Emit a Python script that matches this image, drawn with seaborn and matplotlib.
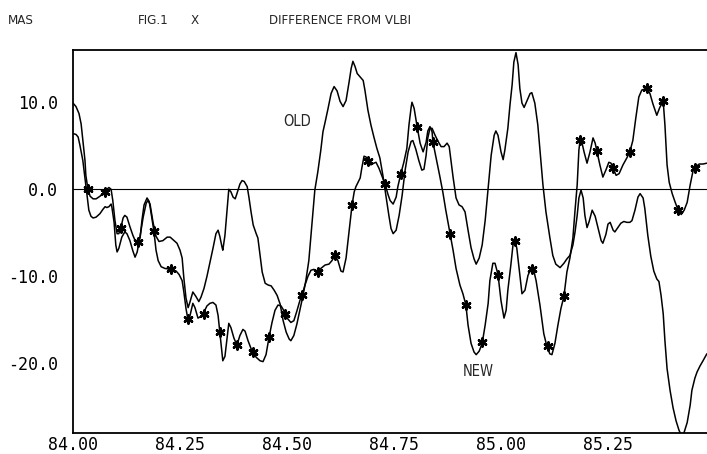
import matplotlib
matplotlib.use("Agg")
import matplotlib.pyplot as plt
import pandas as pd
import seaborn as sns

# ---- data (decimal year, milliarcseconds) ----
old_t = [84.000, 84.007, 84.012, 84.016, 84.023, 84.028, 84.033, 84.037, 84.042, 84.047,
         84.054, 84.063, 84.070, 84.075, 84.079, 84.084, 84.089, 84.091, 84.096, 84.100,
         84.103, 84.107, 84.114, 84.121, 84.126, 84.133, 84.140, 84.145, 84.150, 84.157,
         84.164, 84.171, 84.175, 84.180, 84.187, 84.194, 84.201, 84.210, 84.220, 84.227,
         84.236, 84.243, 84.250, 84.255, 84.259, 84.264, 84.269, 84.273, 84.280, 84.287,
         84.294, 84.299, 84.306, 84.313, 84.320, 84.327, 84.334, 84.339, 84.343, 84.348,
         84.350, 84.355, 84.360, 84.364, 84.369, 84.374, 84.379, 84.383, 84.390, 84.395,
         84.400, 84.407, 84.411, 84.416, 84.421, 84.428, 84.432, 84.437, 84.442, 84.449,
         84.456, 84.463, 84.470, 84.477, 84.484, 84.491, 84.498, 84.505, 84.509, 84.516,
         84.523, 84.530, 84.537, 84.544, 84.551, 84.556, 84.561, 84.565, 84.572, 84.579,
         84.584, 84.589, 84.596, 84.603, 84.610, 84.617, 84.624, 84.631, 84.638, 84.645,
         84.650, 84.654, 84.659, 84.664, 84.671, 84.678, 84.682, 84.689, 84.696, 84.703,
         84.710, 84.717, 84.724, 84.731, 84.738, 84.743, 84.748, 84.755, 84.762, 84.769,
         84.776, 84.783, 84.790, 84.794, 84.801, 84.808, 84.815, 84.820, 84.825, 84.829,
         84.834, 84.839, 84.846, 84.853, 84.860, 84.867, 84.874, 84.879, 84.883, 84.888,
         84.895, 84.902, 84.909, 84.916, 84.923, 84.930, 84.937, 84.942, 84.949, 84.956,
         84.963, 84.970, 84.977, 84.984, 84.988, 84.993, 85.000, 85.005, 85.009, 85.016,
         85.021, 85.026, 85.030, 85.035, 85.040, 85.044, 85.049, 85.054, 85.061, 85.068,
         85.072, 85.079, 85.086, 85.093, 85.098, 85.105, 85.114, 85.121, 85.128, 85.138,
         85.147, 85.154, 85.161, 85.168, 85.173, 85.178, 85.182, 85.187, 85.192, 85.196,
         85.201, 85.206, 85.213, 85.220, 85.227, 85.234, 85.238, 85.245, 85.250, 85.255,
         85.262, 85.266, 85.273, 85.280, 85.287, 85.294, 85.301, 85.306, 85.313, 85.320,
         85.325, 85.332, 85.336, 85.343, 85.350, 85.357, 85.364, 85.369, 85.374, 85.379,
         85.383, 85.388, 85.395, 85.402, 85.409, 85.416, 85.423, 85.428, 85.435, 85.442,
         85.446, 85.453, 85.458, 85.465, 85.472, 85.481]
old_v = [6.4, 6.3, 6.0, 5.1, 3.3, 1.3, -0.7, -2.4, -3.1, -3.3,
         -3.2, -2.8, -2.3, -2.0, -2.1, -2.0, -1.7, -2.1, -3.8, -6.4,
         -7.2, -6.8, -5.5, -4.9, -5.1, -5.9, -7.1, -7.8, -7.2, -5.3,
         -3.2, -1.6, -1.3, -1.7, -3.8, -5.4, -6.0, -5.9, -5.5, -5.5,
         -5.9, -6.2, -7.0, -7.9, -10.2, -12.5, -13.6, -13.0, -11.8, -12.3,
         -12.9, -12.4, -11.4, -10.0, -8.4, -6.8, -5.1, -4.7, -5.4, -6.6,
         -7.0, -5.3, -2.4, 0.0, -0.3, -0.9, -1.1, -0.5, 0.6, 1.0,
         0.9, 0.3, -0.9, -2.6, -4.1, -5.1, -5.6, -7.6, -9.5, -10.8,
         -11.0, -11.1, -11.6, -12.2, -13.2, -15.1, -16.4, -17.2, -17.4, -16.8,
         -15.5, -13.9, -12.3, -10.5, -8.2, -5.3, -2.4, -0.1, 2.0, 4.5,
         6.6, 7.7, 9.3, 11.0, 11.8, 11.3, 10.1, 9.5, 10.2, 12.3,
         13.9, 14.7, 14.1, 13.3, 12.9, 12.5, 11.4, 9.1, 7.4, 6.0,
         4.7, 3.6, 1.6, -0.7, -3.0, -4.5, -5.1, -4.7, -3.0, -0.7,
         2.2, 4.3, 5.5, 5.6, 4.6, 3.3, 2.2, 2.3, 3.9, 5.9,
         7.0, 7.0, 6.2, 5.5, 4.9, 4.9, 5.3, 4.9, 3.3, 1.4,
         -1.0, -1.8, -2.0, -2.6, -4.7, -6.7, -8.0, -8.6, -7.9, -6.4,
         -3.6, 0.1, 3.9, 6.2, 6.7, 6.2, 4.3, 3.4, 4.5, 7.0,
         9.7, 12.0, 14.6, 15.7, 14.3, 11.6, 9.9, 9.4, 10.2, 11.0,
         11.1, 9.9, 7.4, 3.3, 0.5, -2.6, -5.5, -7.6, -8.6, -9.0,
         -8.5, -8.0, -7.6, -6.4, -4.9, -3.0, -1.0, -0.1, -1.0, -3.0,
         -4.4, -3.7, -2.4, -3.1, -4.5, -5.9, -6.2, -5.2, -4.0, -3.8,
         -4.7, -4.9, -4.4, -3.9, -3.7, -3.8, -3.8, -3.6, -2.4, -0.9,
         -0.5, -1.0, -2.2, -5.3, -7.7, -9.4, -10.3, -10.6, -12.2, -14.3,
         -17.4, -20.6, -23.1, -25.1, -26.6, -27.7, -28.4, -27.9, -26.8, -24.8,
         -23.1, -21.7, -21.0, -20.3, -19.7, -18.9]

new_t = [84.000, 84.007, 84.014, 84.019, 84.023, 84.028, 84.030, 84.035, 84.040, 84.047,
         84.054, 84.063, 84.070, 84.075, 84.079, 84.084, 84.089, 84.093, 84.098, 84.103,
         84.107, 84.112, 84.117, 84.121, 84.126, 84.133, 84.140, 84.147, 84.152, 84.157,
         84.161, 84.166, 84.173, 84.178, 84.182, 84.189, 84.194, 84.199, 84.206, 84.215,
         84.229, 84.241, 84.248, 84.255, 84.259, 84.264, 84.269, 84.273, 84.280, 84.285,
         84.292, 84.299, 84.304, 84.313, 84.320, 84.327, 84.334, 84.339, 84.343, 84.348,
         84.350, 84.355, 84.360, 84.364, 84.369, 84.376, 84.383, 84.390, 84.397, 84.402,
         84.409, 84.416, 84.421, 84.428, 84.437, 84.444, 84.451, 84.458, 84.465, 84.472,
         84.479, 84.486, 84.491, 84.495, 84.502, 84.509, 84.516, 84.523, 84.530, 84.535,
         84.542, 84.549, 84.556, 84.563, 84.572, 84.579, 84.589, 84.598, 84.605, 84.612,
         84.619, 84.626, 84.631, 84.638, 84.645, 84.652, 84.657, 84.661, 84.671, 84.675,
         84.680, 84.685, 84.689, 84.696, 84.703, 84.708, 84.715, 84.722, 84.729, 84.736,
         84.741, 84.748, 84.755, 84.759, 84.766, 84.773, 84.780, 84.785, 84.790, 84.792,
         84.797, 84.804, 84.811, 84.818, 84.825, 84.829, 84.834, 84.839, 84.841, 84.848,
         84.857, 84.864, 84.871, 84.881, 84.888, 84.895, 84.904, 84.911, 84.918, 84.923,
         84.930, 84.937, 84.942, 84.949, 84.956, 84.963, 84.970, 84.974, 84.981, 84.986,
         84.993, 85.000, 85.007, 85.012, 85.016, 85.023, 85.028, 85.033, 85.037, 85.044,
         85.049, 85.056, 85.063, 85.070, 85.075, 85.082, 85.091, 85.100, 85.107, 85.114,
         85.119, 85.126, 85.133, 85.140, 85.147, 85.154, 85.161, 85.168, 85.173, 85.178,
         85.182, 85.185, 85.189, 85.194, 85.201, 85.208, 85.215, 85.220, 85.224, 85.231,
         85.238, 85.245, 85.252, 85.257, 85.262, 85.269, 85.276, 85.285, 85.294, 85.301,
         85.308, 85.315, 85.322, 85.329, 85.341, 85.348, 85.355, 85.364, 85.371, 85.379,
         85.383, 85.388, 85.393, 85.400, 85.407, 85.414, 85.421, 85.428, 85.435, 85.442,
         85.449, 85.453, 85.463, 85.472, 85.481]
new_v = [9.9, 9.5, 8.7, 7.5, 5.6, 3.3, 1.6, 0.0, -0.8, -1.1,
         -1.1, -0.8, -0.5, -0.3, 0.0, 0.2, 0.0, -1.3, -3.6, -5.1,
         -5.1, -4.4, -3.3, -3.0, -3.2, -4.3, -5.3, -6.1, -6.2, -5.5,
         -3.6, -1.8, -1.0, -1.4, -2.6, -4.8, -7.0, -8.2, -8.9, -9.1,
         -9.2, -9.4, -9.8, -10.5, -11.8, -13.7, -15.1, -14.6, -13.1, -13.6,
         -14.8, -14.6, -14.3, -13.4, -13.1, -13.0, -13.3, -14.5, -16.4, -18.7,
         -19.7, -19.2, -17.1, -15.4, -15.9, -17.1, -17.9, -16.8, -16.1, -16.3,
         -17.4, -18.3, -18.7, -19.3, -19.7, -19.8, -19.0, -17.0, -15.3, -13.9,
         -13.3, -13.4, -13.8, -14.3, -14.9, -15.3, -15.1, -14.0, -12.8, -12.2,
         -11.0, -10.0, -9.3, -9.2, -9.5, -9.1, -8.7, -8.6, -8.2, -7.6,
         -8.2, -9.4, -9.5, -7.9, -4.9, -1.8, -0.3, 0.3, 1.3, 2.5,
         3.8, 3.7, 3.2, 2.8, 3.0, 3.1, 2.4, 1.5, 0.6, -0.6,
         -1.3, -1.7, -0.9, 0.3, 1.8, 3.1, 4.7, 7.4, 9.4, 10.0,
         9.3, 7.2, 5.3, 4.3, 5.4, 6.7, 7.2, 6.6, 5.4, 3.7,
         1.5, -0.3, -2.4, -5.1, -7.0, -9.1, -11.0, -12.0, -13.3, -15.6,
         -17.7, -18.7, -19.0, -18.6, -17.7, -15.6, -13.1, -10.5, -8.5, -8.5,
         -9.8, -12.8, -14.8, -13.9, -11.6, -8.7, -6.4, -5.9, -6.8, -9.9,
         -12.0, -11.6, -9.9, -9.1, -9.0, -10.5, -13.3, -16.6, -18.0, -18.9,
         -19.0, -17.7, -15.6, -13.7, -12.3, -9.5, -7.9, -5.6, -2.4, 0.5,
         4.5, 5.7, 5.4, 4.3, 3.0, 4.3, 5.9, 5.3, 4.4, 2.8,
         1.4, 2.2, 3.1, 3.0, 2.4, 1.6, 1.8, 2.8, 3.6, 4.3,
         5.6, 8.2, 10.6, 11.4, 11.6, 11.0, 9.8, 8.5, 9.4, 10.1,
         7.4, 2.8, 0.8, -0.5, -1.5, -2.4, -2.9, -2.4, -1.5, 0.5,
         2.2, 2.5, 2.9, 2.9, 3.0]

# NEW solution sample epochs (asterisks)
pts_t = [84.035, 84.075, 84.112, 84.152, 84.189, 84.229, 84.269, 84.306, 84.343, 84.383,
         84.421, 84.458, 84.495, 84.535, 84.572, 84.612, 84.652, 84.689, 84.729, 84.766,
         84.804, 84.841, 84.881, 84.918, 84.956, 84.993, 85.033, 85.072, 85.109, 85.147,
         85.185, 85.224, 85.262, 85.301, 85.341, 85.379, 85.414, 85.453]
pts_v = [0.0, -0.3, -4.4, -6.0, -4.8, -9.2, -14.9, -14.3, -16.4, -17.9,
         -18.7, -17.0, -14.3, -12.2, -9.5, -7.6, -1.8, 3.2, 0.6, 1.8,
         7.2, 5.4, -5.1, -13.3, -17.6, -9.8, -5.9, -9.2, -18.0, -12.3,
         5.7, 4.4, 2.4, 4.3, 11.6, 10.1, -2.4, 2.5]

xticks = [84.00, 84.25, 84.50, 84.75, 85.00, 85.25]
xtick_labels = ["84.00", "84.25", "84.50", "84.75", "85.00", "85.25"]
yticks = [-20.0, -10.0, 0.0, 10.0]
ytick_labels = ["-20.0", "-10.0", "0.0", "10.0"]

old_df = pd.DataFrame({"t": old_t, "v": old_v})
new_df = pd.DataFrame({"t": new_t, "v": new_v})
pts_df = pd.DataFrame({"t": pts_t, "v": pts_v})

sns.set_style("white")
plt.rcParams["font.family"] = ["DejaVu Sans Mono"]

W, H = 707, 454
fig = plt.figure(figsize=(W / 100, H / 100), dpi=100)
ax = fig.add_axes([73 / W, 21 / H, 642 / W, 383 / H])

ax.axhline(0, color="black", lw=0.8, zorder=1)
sns.lineplot(data=old_df, x="t", y="v", sort=False, estimator=None,
             color="black", lw=1.1, ax=ax, zorder=2)
sns.lineplot(data=new_df, x="t", y="v", sort=False, estimator=None,
             color="black", lw=1.1, ax=ax, zorder=2)
sns.scatterplot(data=pts_df, x="t", y="v", marker=(6, 2, 0), s=34,
                color="black", linewidth=1.8, edgecolor="black", ax=ax, zorder=3)

ax.set_xlim(84.0, 85.5)
ax.set_ylim(-28.0, 16.0)
ax.set_xticks(xticks)
ax.set_xticklabels(xtick_labels)
ax.set_yticks(yticks)
ax.set_yticklabels(ytick_labels)
ax.set_xlabel("")
ax.set_ylabel("")

ax.tick_params(axis="both", direction="in", colors="black", labelsize=12, width=1.1)
ax.tick_params(axis="x", length=9, pad=2)
ax.tick_params(axis="y", length=10, pad=11)

for side in ["left", "bottom", "top"]:
    ax.spines[side].set_visible(True)
    ax.spines[side].set_color("black")
    ax.spines[side].set_linewidth(1.3)
ax.spines["right"].set_visible(False)

label_font = ["DejaVu Sans", "Liberation Sans"]
tkw = dict(family=label_font, fontstretch="condensed", va="center", ha="left")
ax.text(84.491, 7.8, "OLD", fontsize=10.5, **tkw)
ax.text(84.911, -20.9, "NEW", fontsize=10.5, **tkw)

ty = 1 - 20 / H
fig.text(8 / W, ty, "MAS", fontsize=9.5, **tkw)
fig.text(138 / W, ty, "FIG.1", fontsize=9.5, **tkw)
fig.text(191 / W, ty, "X", fontsize=9.5, **tkw)
fig.text(269 / W, ty, "DIFFERENCE FROM VLBI", fontsize=9.5, **tkw)

fig.savefig("out.png", dpi=100)
